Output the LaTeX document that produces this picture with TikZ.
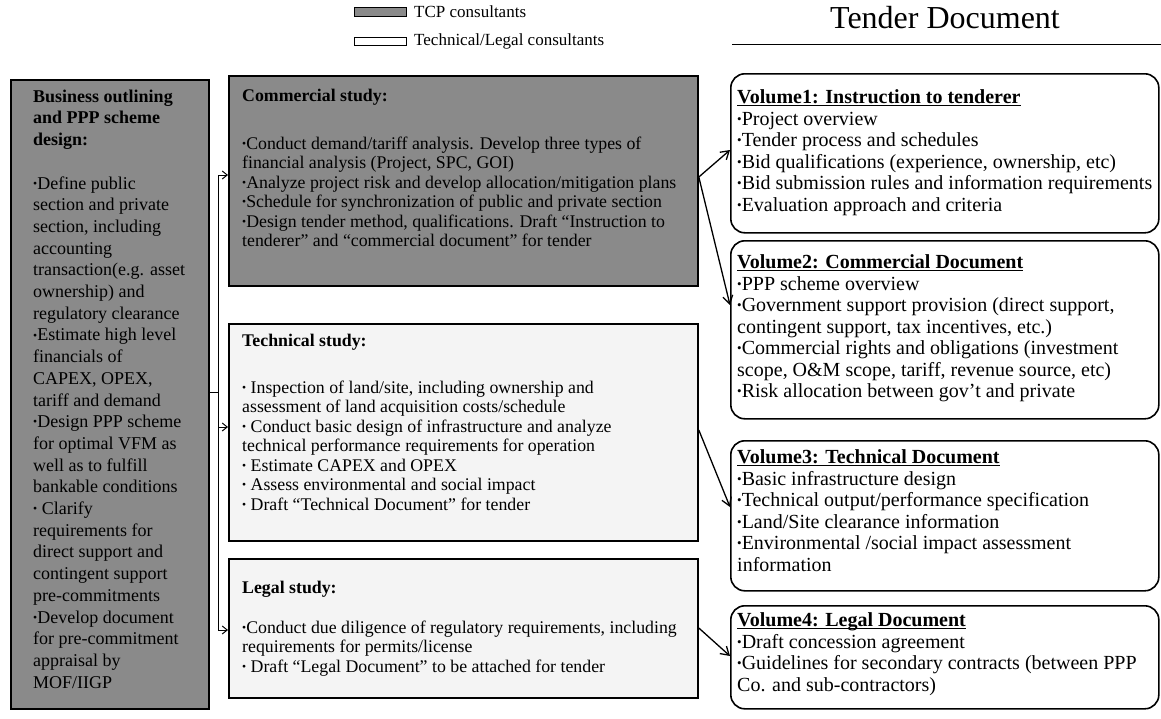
\documentclass[tikz,border=0pt]{standalone}
\usepackage{fontspec}
\usepackage{graphicx}
\setmainfont{Liberation Serif}
\usetikzlibrary{arrows.meta}
\definecolor{tcpgray}{HTML}{8A8A8A}
\definecolor{paper}{HTML}{F4F4F4}
\newcommand\bul{\raisebox{0.22ex}{\scalebox{0.65}{•}}}
% underlined volume heading, rule kept at the same depth whatever the letters
\newcommand\volhead[1]{\underline{\raisebox{0pt}[\height][0pt]{\textbf{#1}}}}

\begin{document}
\begin{tikzpicture}[x=1pt,y=-1pt,
  tcpbox/.style={draw=black, line width=1.8pt, fill=tcpgray, inner sep=0pt, anchor=north west},
  tlbox/.style={draw=black, line width=1.8pt, fill=paper, inner sep=0pt, anchor=north west},
  volbox/.style={draw=black, line width=1.6pt, rounded corners=14pt, fill=white, inner sep=0pt, anchor=north west},
  lefttext/.style={anchor=north west, inner sep=0pt, align=left, font=\fontsize{18}{21.7}\selectfont},
  midtext/.style={anchor=north west, inner sep=0pt, align=left, font=\fontsize{17.8}{19.5}\selectfont},
  voltext/.style={anchor=north west, inner sep=0pt, align=left, font=\fontsize{20}{21.5}\selectfont},
  legendtext/.style={anchor=west, inner sep=0pt, font=\fontsize{17}{20}\selectfont},
  keybox/.style={draw=black, line width=1.2pt, minimum width=52pt, inner sep=0pt, anchor=north west},
  feed/.style={line width=1pt, -{Straight Barb[length=5pt,width=8pt,line width=1pt]}},
  docarrow/.style={line width=1.3pt, -{Straight Barb[length=8pt,width=10pt,line width=1.3pt]}}
]
\useasboundingbox (0,0) rectangle (1161,718);

% legend
\node[keybox, fill=tcpgray, minimum height=9pt] (key-tcp) at (354,7) {};
\node[legendtext] (key-tcp-label) at (414,12) {TCP consultants};
\node[keybox, fill=white, minimum height=8pt] (key-tl) at (354,37) {};
\node[legendtext] (key-tl-label) at (414,41) {Technical/Legal consultants};

% heading of the document column
\node[anchor=base, inner sep=0pt, font=\fontsize{32}{36}\selectfont] (tender) at (945,28) {Tender Document};
\draw[line width=0.9pt] (732,44) -- (1161,44);

% boxes
\node[tcpbox, minimum width=198pt, minimum height=629pt] (design) at (10,79) {};
\node[tcpbox, minimum width=469pt, minimum height=210pt] (commercial) at (228,75) {};
\node[tlbox, minimum width=469pt, minimum height=217pt] (technical) at (228,323) {};
\node[tlbox, minimum width=469pt, minimum height=139pt] (legal) at (228,558) {};

\node[volbox, minimum width=428pt, minimum height=159pt] (vol1) at (730,73) {};
\node[volbox, minimum width=428pt, minimum height=178pt] (vol2) at (730,240) {};
\node[volbox, minimum width=428pt, minimum height=150pt] (vol3) at (730,440) {};
\node[volbox, minimum width=428pt, minimum height=103pt] (vol4) at (730,605) {};

% texts
\node[lefttext] (design-text) at (33,86.8) {\strut\textbf{Business outlining}\\
\textbf{and PPP scheme}\\
\textbf{design:}\\[21.7pt]
\bul Define public\\
section and private\\
section, including\\
accounting\\
transaction(e.g. asset\\
ownership) and\\
regulatory clearance\\
\bul Estimate high level\\
financials of\\
CAPEX, OPEX,\\
tariff and demand\\
\bul Design PPP scheme\\
for optimal VFM as\\
well as to fulfill\\
bankable conditions\\
\bul\ Clarify\\
requirements for\\
direct support and\\
contingent support\\
pre-commitments\\
\bul Develop document\\
for pre-commitment\\
appraisal by\\
MOF/IIGP};

\node[midtext] (commercial-title) at (242,87.4) {\strut\textbf{Commercial study:}};
\node[midtext] (commercial-text) at (242,135.4) {\strut\bul Conduct demand/tariff analysis. Develop three types of\\
financial analysis (Project, SPC, GOI)\\
\bul Analyze project risk and develop allocation/mitigation plans\\
\bul Schedule for synchronization of public and private section\\
\bul Design tender method, qualifications. Draft “Instruction to\\
tenderer” and “commercial document” for tender};

\node[midtext] (technical-title) at (242,332.4) {\strut\textbf{Technical study:}};
\node[midtext] (technical-text) at (242,379.4) {\strut\bul\ Inspection of land/site, including ownership and\\
assessment of land acquisition costs/schedule\\
\bul\ Conduct basic design of infrastructure and analyze\\
technical performance requirements for operation\\
\bul\ Estimate CAPEX and OPEX\\
\bul\ Assess environmental and social impact\\
\bul\ Draft “Technical Document” for tender};

\node[midtext] (legal-title) at (242,579.4) {\strut\textbf{Legal study:}};
\node[midtext] (legal-text) at (242,619.4) {\strut\bul Conduct due diligence of regulatory requirements, including\\
requirements for permits/license\\
\bul\ Draft “Legal Document” to be attached for tender};

\node[voltext] (vol1-text) at (737,88.5) {\strut\volhead{Volume1: Instruction to tenderer}\\
\bul Project overview\\
\bul Tender process and schedules\\
\bul Bid qualifications (experience, ownership, etc)\\
\bul Bid submission rules and information requirements\\
\bul Evaluation approach and criteria};

\node[voltext] (vol2-text) at (737,253.5) {\strut\volhead{Volume2: Commercial Document}\\
\bul PPP scheme overview\\
\bul Government support provision (direct support,\\
contingent support, tax incentives, etc.)\\
\bul Commercial rights and obligations (investment\\
scope, O\&M scope, tariff, revenue source, etc)\\
\bul Risk allocation between gov’t and private};

\node[voltext] (vol3-text) at (737,448.5) {\strut\volhead{Volume3: Technical Document}\\
\bul Basic infrastructure design\\
\bul Technical output/performance specification\\
\bul Land/Site clearance information\\
\bul Environmental /social impact assessment\\
information};

\node[voltext] (vol4-text) at (737,611.5) {\strut\volhead{Volume4: Legal Document}\\
\bul Draft concession agreement\\
\bul Guidelines for secondary contracts (between PPP\\
Co. and sub-contractors)};

% connectors from the business design box to the three studies
\coordinate (hub) at (218,392);
\draw[line width=1pt] (design.east |- hub) -- (hub);
\draw[feed] (hub) |- (commercial.west |- 0,175);
\draw[feed] (hub) |- (technical.west |- 0,427);
\draw[feed] (hub) |- (legal.west |- 0,630);

% studies feeding the tender volumes
\draw[docarrow] (commercial.east |- 0,177) -- (vol1.west |- 0,150);
\draw[docarrow] (commercial.east |- 0,177) -- (vol2.west |- 0,305);
\draw[docarrow] (technical.east |- 0,430) -- (vol3.west |- 0,507);
\draw[docarrow] (legal.east |- 0,628) -- (vol4.west |- 0,656);
\end{tikzpicture}
\end{document}
